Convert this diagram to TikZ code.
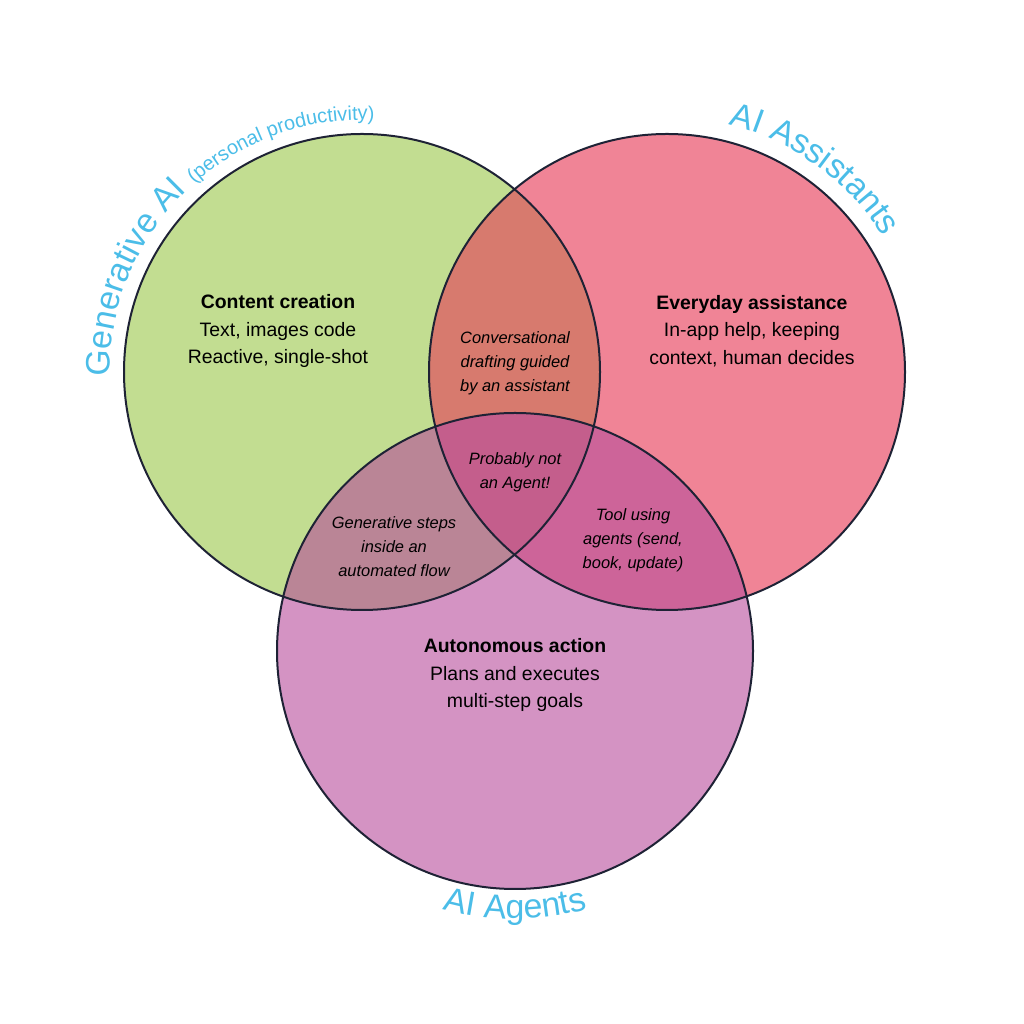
\documentclass[tikz,border=0pt]{standalone}
\usepackage{fontspec}
\setmainfont{Liberation Sans}
\usetikzlibrary{decorations.text,calc}
\definecolor{genfill}{HTML}{C2DD91}
\definecolor{assfill}{HTML}{F08496}
\definecolor{agefill}{HTML}{D493C3}
\definecolor{genass}{HTML}{D77A6E}
\definecolor{genage}{HTML}{BA8596}
\definecolor{assage}{HTML}{CD6499}
\definecolor{allfill}{HTML}{C45E8C}
\definecolor{titlecol}{HTML}{4BBDE8}
\definecolor{rimcol}{HTML}{1E2235}
\tikzset{
  rim/.style = {draw = rimcol, line width = 2bp},
  lbl/.style = {align = center, font = \fontsize{19.5}{27.5}\selectfont},
  mid/.style = {align = center, font = \fontsize{16.5}{24}\selectfont\itshape}
}
\begin{document}
\begin{tikzpicture}[x=1bp, y=1bp]
\pgfmathsetmacro\r{238};
\useasboundingbox (0,0) rectangle (1024,1024);
\coordinate (gen) at (362,652);
\coordinate (ass) at (667,652);
\coordinate (age) at (515,373);
\fill [genfill] (gen) circle (\r);
\fill [assfill] (ass) circle (\r);
\fill [agefill] (age) circle (\r);
\begin{scope} \clip (gen) circle (\r); \fill [genass] (ass) circle (\r); \fill [genage] (age) circle (\r); \end{scope}
\begin{scope} \clip (ass) circle (\r); \fill [assage] (age) circle (\r); \end{scope}
\begin{scope} \clip (gen) circle (\r); \clip (ass) circle (\r); \fill [allfill] (age) circle (\r); \end{scope}
\foreach \c in {gen,ass,age} \draw [rim] (\c) circle (\r);
% curved titles
\path [decorate, decoration = {text along path, text color = titlecol,
  text = {|\fontsize{34}{34}\selectfont|Generative AI |\fontsize{20}{20}\selectfont|(personal productivity)}}]
  ($(gen)+(181:252)$) arc [start angle = 181, end angle = 60, radius = 252];
\path [decorate, decoration = {text along path, text color = titlecol,
  text = {|\fontsize{34}{34}\selectfont|AI Assistants}}]
  ($(ass)+(76:255)$) arc [start angle = 76, end angle = 15, radius = 255];
\path [decorate, decoration = {text along path, text color = titlecol, text align = center,
  text = {|\fontsize{34}{34}\selectfont|AI Agents}}]
  ($(age)+(240:268)$) arc [start angle = 240, end angle = 300, radius = 268];
% region texts
\node [lbl] (content) at (278,693) {\textbf{Content creation}\\Text, images code\\Reactive, single-shot};
\node [lbl] (everyday) at (752,693) {\textbf{Everyday assistance}\\In-app help, keeping\\context, human decides};
\node [lbl] (autonomous) at (515,349) {\textbf{Autonomous action}\\Plans and executes\\multi-step goals};
\node [mid] (drafting) at (515,661) {Conversational\\drafting guided\\by an assistant};
\node [mid] (notagent) at (515,552) {Probably not\\an Agent!};
\node [mid] (steps) at (394,477) {Generative steps\\inside an\\automated flow};
\node [mid] (tools) at (633,484) {Tool using\\agents (send,\\book, update)};
\end{tikzpicture}
\end{document}
